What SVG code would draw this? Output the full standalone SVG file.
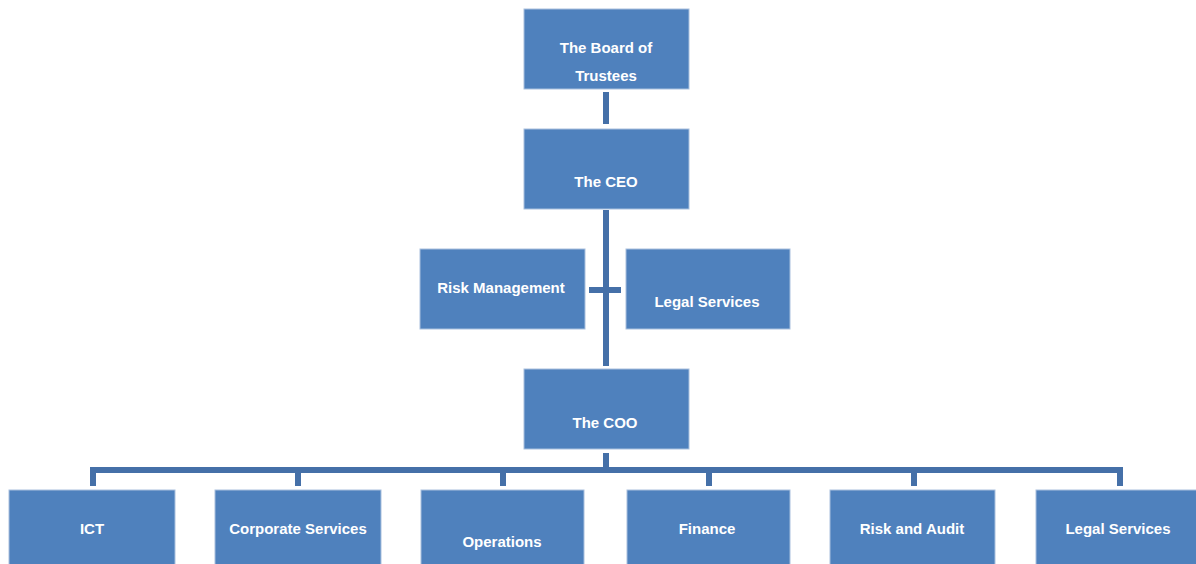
<svg xmlns="http://www.w3.org/2000/svg" width="1196" height="564" viewBox="0 0 1196 564">
<style>
.box{fill:#4F81BD;stroke:#A9C0DE;stroke-width:1}
.lbl{font-family:"Liberation Sans",Arial,sans-serif;font-weight:bold;font-size:15px;fill:#FFFFFF;text-anchor:middle}
.con{stroke:#4570A8;stroke-width:6;fill:none}
</style>
<rect width="1196" height="564" fill="#FFFFFF"/>
<g id="connectors">
<line class="con" x1="606" y1="92" x2="606" y2="124"/>
<line class="con" x1="606" y1="210" x2="606" y2="366"/>
<line class="con" x1="589" y1="290" x2="621" y2="290"/>
<line class="con" x1="606" y1="453" x2="606" y2="470"/>
<path class="con" d="M93 486 V470 H1120 V486"/>
<line class="con" x1="298" y1="470" x2="298" y2="486"/>
<line class="con" x1="503" y1="470" x2="503" y2="486"/>
<line class="con" x1="709" y1="470" x2="709" y2="486"/>
<line class="con" x1="914" y1="470" x2="914" y2="486"/>
</g>
<g id="board"><rect class="box" x="524" y="9" width="165" height="80"/><text class="lbl" x="606" y="53">The Board of</text><text class="lbl" x="606" y="81">Trustees</text></g>
<g id="ceo"><rect class="box" x="524" y="129" width="165" height="80"/><text class="lbl" x="606" y="187">The CEO</text></g>
<g id="risk-management"><rect class="box" x="420" y="249" width="165" height="80"/><text class="lbl" x="501" y="293">Risk Management</text></g>
<g id="legal-services-ceo"><rect class="box" x="626" y="249" width="164" height="80"/><text class="lbl" x="707" y="307">Legal Services</text></g>
<g id="coo"><rect class="box" x="524" y="369" width="165" height="80"/><text class="lbl" x="605" y="428">The COO</text></g>
<g id="ict"><rect class="box" x="9" y="490" width="166" height="80"/><text class="lbl" x="92" y="534">ICT</text></g>
<g id="corporate-services"><rect class="box" x="215" y="490" width="166" height="80"/><text class="lbl" x="298" y="534">Corporate Services</text></g>
<g id="operations"><rect class="box" x="421" y="490" width="163" height="80"/><text class="lbl" x="502" y="547">Operations</text></g>
<g id="finance"><rect class="box" x="627" y="490" width="163" height="80"/><text class="lbl" x="707" y="534">Finance</text></g>
<g id="risk-and-audit"><rect class="box" x="830" y="490" width="165" height="80"/><text class="lbl" x="912" y="534">Risk and Audit</text></g>
<g id="legal-services"><rect class="box" x="1036" y="490" width="165" height="80"/><text class="lbl" x="1118" y="534">Legal Services</text></g>
</svg>
